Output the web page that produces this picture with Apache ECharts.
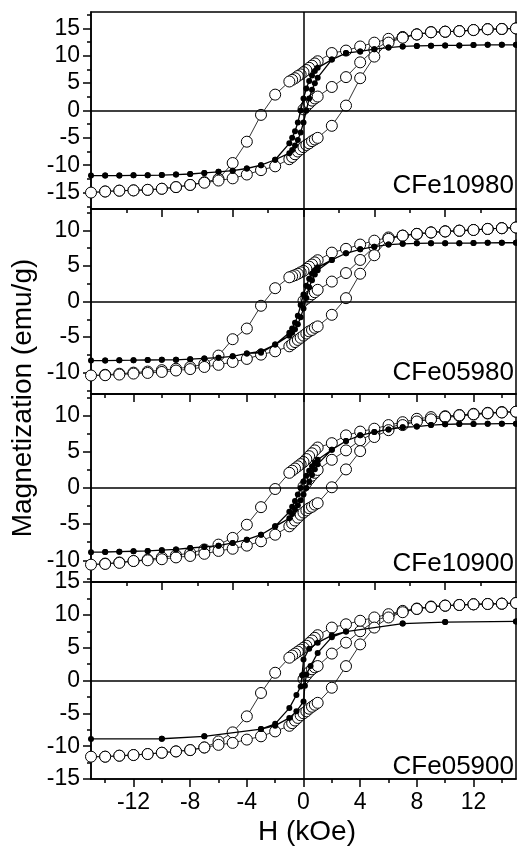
<!DOCTYPE html>
<html>
<head>
<meta charset="utf-8">
<script src="https://cdn.jsdelivr.net/npm/echarts@6/dist/echarts.min.js"></script>
<style>
html, body { margin: 0; padding: 0; background: #fff; }
#chart { width: 517px; height: 847px; }
</style>
</head>
<body>
<div id="chart"></div>
<script>
// ---- data: [H (kOe), M (emu/g)] ----
var sampleNames = ['CFe10980', 'CFe05980', 'CFe10900', 'CFe05900'];
var xTickLabels = [-12, -8, -4, 0, 4, 8, 12];
var yTickLabels = [
    [-15, -10, -5, 0, 5, 10, 15],
    [-10, -5, 0, 5, 10],
    [-10, -5, 0, 5, 10],
    [-15, -10, -5, 0, 5, 10, 15]
];
var yMinorTicks = [
    [-17.5, -12.5, -7.5, -2.5, 2.5, 7.5, 12.5, 17.5],
    [-12.5, -7.5, -2.5, 2.5, 7.5, 12.5],
    [-12.5, -7.5, -2.5, 2.5, 7.5, 12.5],
    [-12.5, -7.5, -2.5, 2.5, 7.5, 12.5]
];
var xTicksA = [-10, -5, 0, 5, 10];
var xMinorA = [-12.5, -7.5, -2.5, 2.5, 7.5, 12.5];
var xTicksB = [-12, -8, -4, 0, 4, 8, 12];
var xMinorB = [-14, -10, -6, -2, 2, 6, 10, 14];

// CFe10980
var p1OpenIni = [[0,0.2],[0.2,0.8],[0.4,1.3],[0.6,1.8],[0.8,2.2],[1,2.55],[2,4.3],[3,6.1],[4,8.8],[5,11.1],[6,12.7],[7,13.4],[8,13.9],[9,14.3],[10,14.4],[11,14.5],[12,14.7],[13,14.85],[14,14.9]];
var p1OpenDown = [[15,15.0],[14,14.9],[13,14.85],[12,14.7],[11,14.5],[10,14.4],[9,14.3],[8,13.9],[7,13.4],[6,13.1],[5,12.4],[4,11.7],[3,10.95],[2,10.5],[1,9.0],[0.8,8.6],[0.6,8.2],[0.4,7.8],[0.2,7.4],[0,7.0],[-0.2,6.6],[-0.4,6.3],[-0.6,5.9],[-0.8,5.6],[-1,5.3],[-2,2.9],[-3,-0.8],[-4,-5.7],[-5,-9.6],[-6,-12.5],[-7,-13.1],[-8,-13.6],[-9,-14.0],[-10,-14.3],[-11,-14.5],[-12,-14.6],[-13,-14.65],[-14,-14.8],[-15,-15.0]];
var p1OpenUp = [[-14,-14.8],[-13,-14.65],[-12,-14.6],[-11,-14.5],[-10,-14.3],[-9,-14.0],[-8,-13.6],[-7,-13.2],[-6,-12.8],[-5,-12.4],[-4,-11.7],[-3,-10.9],[-2,-10.2],[-1,-8.9],[-0.8,-8.5],[-0.6,-8.0],[-0.4,-7.5],[-0.2,-7.1],[0,-6.7],[0.2,-6.3],[0.4,-6.0],[0.6,-5.6],[0.8,-5.3],[1,-5.0],[2,-2.8],[3,0.9],[4,5.9],[5,9.85],[6,12.4],[7,13.3],[8,13.9],[9,14.3],[10,14.4],[11,14.5],[12,14.7],[13,14.85],[14,14.9],[15,15.0]];
var p1FillDown = [[15,12.0],[14,12.0],[13,12.0],[12,11.95],[11,11.9],[10,11.9],[9,11.85],[8,11.8],[7,11.7],[6,11.5],[5,11.2],[4,10.8],[3,10.5],[2,9.3],[1,7.8],[0.8,7.2],[0.6,6.4],[0.4,5.4],[0.2,4.0],[0,2.2],[-0.2,0.0],[-0.4,-2.2],[-0.6,-3.8],[-0.8,-5.0],[-1,-6.0],[-2,-9.0],[-3,-10.0],[-4,-10.6],[-5,-11.0],[-6,-11.2],[-7,-11.4],[-8,-11.6],[-9,-11.7],[-10,-11.8],[-11,-11.85],[-12,-11.85],[-13,-11.9],[-14,-11.9],[-15,-11.9]];
var p1FillUp = [[-14,-11.9],[-13,-11.9],[-12,-11.85],[-11,-11.85],[-10,-11.8],[-9,-11.7],[-8,-11.6],[-7,-11.4],[-6,-11.2],[-5,-11.0],[-4,-10.6],[-3,-10.0],[-2,-9.0],[-1,-7.8],[-0.8,-7.2],[-0.6,-6.4],[-0.4,-5.4],[-0.2,-4.0],[0,-2.2],[0.2,0.0],[0.4,2.2],[0.6,3.8],[0.8,5.0],[1,6.0],[2,9.3],[3,10.5],[4,10.8],[5,11.2],[6,11.5],[7,11.7],[8,11.8],[9,11.85],[10,11.9],[11,11.9],[12,11.95],[13,12.0],[14,12.0],[15,12.0]];

// CFe05980
var p2OpenIni = [[0,0.1],[0.2,0.4],[0.4,0.7],[0.6,1.0],[0.8,1.3],[1,1.64],[2,2.8],[3,4.0],[4,5.84],[5,7.7],[6,8.9],[7,9.25],[8,9.5],[9,9.7],[10,9.85],[11,9.95],[12,10.05],[13,10.2],[14,10.3]];
var p2OpenDown = [[15,10.4],[14,10.3],[13,10.2],[12,10.05],[11,9.95],[10,9.85],[9,9.7],[8,9.5],[7,9.25],[6,9.0],[5,8.55],[4,8.0],[3,7.4],[2,6.87],[1,5.8],[0.8,5.5],[0.6,5.2],[0.4,4.9],[0.2,4.6],[0,4.3],[-0.2,4.1],[-0.4,3.9],[-0.6,3.7],[-0.8,3.55],[-1,3.4],[-2,1.87],[-3,-0.6],[-4,-3.8],[-5,-5.3],[-6,-7.6],[-7,-8.8],[-8,-9.2],[-9,-9.45],[-10,-9.65],[-11,-9.85],[-12,-10.0],[-13,-10.15],[-14,-10.3],[-15,-10.4]];
var p2OpenUp = [[-14,-10.36],[-13,-10.27],[-12,-10.13],[-11,-10.04],[-10,-9.9],[-9,-9.7],[-8,-9.5],[-7,-9.2],[-6,-8.9],[-5,-8.5],[-4,-8.07],[-3,-7.47],[-2,-7.0],[-1,-6.3],[-0.8,-6.0],[-0.6,-5.7],[-0.4,-5.4],[-0.2,-5.1],[0,-4.8],[0.2,-4.5],[0.4,-4.2],[0.6,-4.0],[0.8,-3.7],[1,-3.5],[2,-1.87],[3,0.47],[4,3.9],[5,6.5],[6,8.8],[7,9.25],[8,9.5],[9,9.7],[10,9.85],[11,9.95],[12,10.05],[13,10.2],[14,10.3],[15,10.4]];
var p2FillDown = [[15,8.26],[14,8.26],[13,8.25],[12,8.22],[11,8.2],[10,8.2],[9,8.2],[8,8.17],[7,8.1],[6,8.0],[5,7.7],[4,7.33],[3,6.78],[2,5.84],[1,4.8],[0.8,4.4],[0.6,3.9],[0.4,3.2],[0.2,2.2],[0,1.0],[-0.2,-0.5],[-0.4,-2.0],[-0.6,-3.0],[-0.8,-3.8],[-1,-4.4],[-2,-6.06],[-3,-7.2],[-4,-7.3],[-5,-7.7],[-6,-7.9],[-7,-8.0],[-8,-8.1],[-9,-8.2],[-10,-8.2],[-11,-8.22],[-12,-8.25],[-13,-8.27],[-14,-8.3],[-15,-8.3]];
var p2FillUp = [[-14,-8.3],[-13,-8.27],[-12,-8.25],[-11,-8.22],[-10,-8.2],[-9,-8.2],[-8,-8.1],[-7,-8.0],[-6,-7.9],[-5,-7.7],[-4,-7.3],[-3,-7.0],[-2,-6.06],[-1,-4.8],[-0.8,-4.4],[-0.6,-3.9],[-0.4,-3.2],[-0.2,-2.2],[0,-1.0],[0.2,0.5],[0.4,2.0],[0.6,3.0],[0.8,3.8],[1,4.4],[2,5.84],[3,6.78],[4,7.33],[5,7.7],[6,8.0],[7,8.1],[8,8.17],[9,8.2],[10,8.2],[11,8.2],[12,8.22],[13,8.25],[14,8.26],[15,8.26]];

// CFe10900
var p3OpenIni = [[0,0.2],[0.2,0.7],[0.4,1.2],[0.6,1.7],[0.8,2.1],[1,2.5],[2,3.9],[3,5.2],[4,6.6],[5,7.6],[6,8.3],[7,8.9],[8,9.3],[9,9.5],[10,9.75],[11,9.95],[12,10.15],[13,10.3],[14,10.45]];
var p3OpenDown = [[15,10.55],[14,10.5],[13,10.4],[12,10.26],[11,10.1],[10,9.93],[9,9.8],[8,9.57],[7,9.1],[6,8.7],[5,8.2],[4,7.8],[3,7.28],[2,6.2],[1,5.6],[0.8,5.2],[0.6,4.8],[0.4,4.4],[0.2,4.0],[0,3.6],[-0.2,3.3],[-0.4,3.0],[-0.6,2.7],[-0.8,2.4],[-1,2.1],[-2,-0.14],[-3,-2.65],[-4,-5.08],[-5,-6.9],[-6,-7.83],[-7,-8.5],[-8,-9.0],[-9,-9.3],[-10,-9.6],[-11,-9.9],[-12,-10.1],[-13,-10.3],[-14,-10.45],[-15,-10.6]];
var p3OpenUp = [[-14,-10.5],[-13,-10.35],[-12,-10.1],[-11,-10.0],[-10,-9.85],[-9,-9.6],[-8,-9.4],[-7,-9.1],[-6,-8.7],[-5,-8.4],[-4,-7.97],[-3,-7.37],[-2,-6.46],[-1,-5.3],[-0.8,-4.9],[-0.6,-4.5],[-0.4,-4.1],[-0.2,-3.7],[0,-3.4],[0.2,-3.1],[0.4,-2.8],[0.6,-2.6],[0.8,-2.3],[1,-2.1],[2,0.1],[3,2.57],[4,5.1],[5,7.05],[6,8.0],[7,8.7],[8,9.2],[9,9.5],[10,9.85],[11,10.05],[12,10.2],[13,10.35],[14,10.45],[15,10.55]];
var p3FillDown = [[15,8.9],[14,8.9],[13,8.88],[12,8.85],[11,8.85],[10,8.8],[9,8.7],[8,8.5],[7,8.4],[6,8.1],[5,7.74],[4,7.28],[3,6.5],[2,5.3],[1,3.9],[0.8,3.5],[0.6,3.0],[0.4,2.4],[0.2,1.7],[0,0.9],[-0.2,0.0],[-0.4,-0.9],[-0.6,-1.8],[-0.8,-2.6],[-1,-3.3],[-2,-5.3],[-3,-6.46],[-4,-7.14],[-5,-7.6],[-6,-7.97],[-7,-8.15],[-8,-8.3],[-9,-8.5],[-10,-8.6],[-11,-8.7],[-12,-8.75],[-13,-8.8],[-14,-8.85],[-15,-8.88]];
var p3FillUp = [[-14,-8.85],[-13,-8.8],[-12,-8.75],[-11,-8.7],[-10,-8.6],[-9,-8.5],[-8,-8.3],[-7,-8.15],[-6,-7.97],[-5,-7.6],[-4,-7.14],[-3,-6.46],[-2,-5.3],[-1,-4.2],[-0.8,-3.6],[-0.6,-3.0],[-0.4,-2.4],[-0.2,-1.7],[0,-0.9],[0.2,0.0],[0.4,0.9],[0.6,1.8],[0.8,2.6],[1,3.3],[2,5.3],[3,6.5],[4,7.28],[5,7.74],[6,8.1],[7,8.4],[8,8.5],[9,8.7],[10,8.8],[11,8.85],[12,8.85],[13,8.88],[14,8.9],[15,8.9]];

// CFe05900
var p4OpenIni = [[0,0.2],[0.2,0.8],[0.4,1.3],[0.6,1.7],[0.8,2.0],[1,2.2],[2,4.1],[3,5.76],[4,7.5],[5,9.0],[6,9.9],[7,10.5],[8,10.9],[9,11.2],[10,11.4],[11,11.5],[12,11.6],[13,11.65],[14,11.7]];
var p4OpenDown = [[15,11.8],[14,11.7],[13,11.65],[12,11.6],[11,11.5],[10,11.4],[9,11.27],[8,10.96],[7,10.6],[6,10.1],[5,9.6],[4,9.1],[3,8.56],[2,8.06],[1,6.9],[0.8,6.5],[0.6,6.1],[0.4,5.7],[0.2,5.3],[0,5.0],[-0.2,4.7],[-0.4,4.4],[-0.6,4.1],[-0.8,3.8],[-1,3.47],[-2,1.18],[-3,-1.9],[-4,-5.46],[-5,-7.9],[-6,-9.28],[-7,-10.2],[-8,-10.6],[-9,-10.8],[-10,-11.0],[-11,-11.2],[-12,-11.35],[-13,-11.45],[-14,-11.6],[-15,-11.6]];
var p4OpenUp = [[-14,-11.6],[-13,-11.45],[-12,-11.35],[-11,-11.2],[-10,-11.0],[-9,-10.8],[-8,-10.6],[-7,-10.2],[-6,-9.8],[-5,-9.5],[-4,-9.0],[-3,-8.5],[-2,-7.75],[-1,-6.9],[-0.8,-6.5],[-0.6,-6.1],[-0.4,-5.7],[-0.2,-5.3],[0,-5.0],[0.2,-4.7],[0.4,-4.3],[0.6,-4.0],[0.8,-3.7],[1,-3.4],[2,-1.1],[3,2.19],[4,5.5],[5,8.06],[6,9.6],[7,10.4],[8,10.9],[9,11.2],[10,11.4],[11,11.5],[12,11.6],[13,11.65],[14,11.7],[15,11.8]];
var p4FillDown = [[15,9.0],[10,8.9],[7,8.67],[3,7.45],[2,6.88],[1,5.76],[0.4,4.85],[0,3.2],[-0.1,0.8],[-0.2,-0.9],[-0.5,-2.2],[-1,-4.2],[-2,-6.6],[-3,-7.4],[-7,-8.5],[-10,-8.87],[-15,-8.9]];
var p4FillUp = [[-10,-8.87],[-7,-8.5],[-3,-7.4],[-2,-6.88],[-1,-5.7],[-0.5,-4.7],[0,-3.2],[0.1,-0.8],[0.2,0.9],[0.5,2.2],[1,4.2],[2,6.6],[3,7.45],[7,8.67],[10,8.9],[15,9.0]];

var yRanges = [[-18, 18], [-13, 13], [-13, 13], [-15, 15]];

var panels = [
    { open: p1OpenIni.concat(p1OpenDown, p1OpenUp), fill: p1FillDown.concat(p1FillUp), xMajor: xTicksA, xMinor: xMinorA },
    { open: p2OpenIni.concat(p2OpenDown, p2OpenUp), fill: p2FillDown.concat(p2FillUp), xMajor: xTicksB, xMinor: xMinorB },
    { open: p3OpenIni.concat(p3OpenDown, p3OpenUp), fill: p3FillDown.concat(p3FillUp), xMajor: xTicksA, xMinor: xMinorA },
    { open: p4OpenIni.concat(p4OpenDown, p4OpenUp), fill: p4FillDown.concat(p4FillUp), xMajor: xTicksB, xMinor: xMinorB }
];

// ---- chart ----
var FONT = '"Liberation Sans", Arial, Helvetica, sans-serif';
var layout = [{top: 12, h: 197}, {top: 209, h: 185}, {top: 394, h: 188}, {top: 582, h: 197}];
var labelY = [186, 373, 564, 767];

var chart = echarts.init(document.getElementById('chart'));
var option = {
    animation: false,
    backgroundColor: '#fff',
    grid: [], xAxis: [], yAxis: [], series: [], graphic: []
};

panels.forEach(function (p, i) {
    var last = (i === 3);
    option.grid.push({
        left: 91, right: 1, top: layout[i].top, height: layout[i].h,
        show: true, borderColor: '#000', borderWidth: 1.5, outerBoundsMode: 'none'
    });
    // major x ticks (+ labels on the bottom panel)
    option.xAxis.push({
        gridIndex: i, type: 'value', min: -15, max: 15, position: 'bottom',
        axisLine: { show: true, onZero: false, lineStyle: { color: '#000', width: 1.5 } },
        axisTick: { show: true, inside: false, length: 8, customValues: p.xMajor, lineStyle: { color: '#000', width: 1.5 } },
        axisLabel: { show: last, customValues: xTickLabels, margin: 12, color: '#000', fontSize: 23, fontFamily: FONT },
        splitLine: { show: false }
    });
    // minor x ticks
    option.xAxis.push({
        gridIndex: i, type: 'value', min: -15, max: 15, position: 'bottom',
        axisLine: { show: false, onZero: false },
        axisTick: { show: true, inside: false, length: 4, customValues: p.xMinor, lineStyle: { color: '#000', width: 1.5 } },
        axisLabel: { show: false },
        splitLine: { show: false }
    });
    option.yAxis.push({
        gridIndex: i, type: 'value', min: yRanges[i][0], max: yRanges[i][1], position: 'left',
        axisLine: { show: true, onZero: false, lineStyle: { color: '#000', width: 1.5 } },
        axisTick: { show: true, inside: false, length: 8, customValues: yTickLabels[i], lineStyle: { color: '#000', width: 1.5 } },
        axisLabel: { show: true, customValues: yTickLabels[i], margin: 11, color: '#000', fontSize: 23, fontFamily: FONT },
        splitLine: { show: false }
    });
    option.yAxis.push({
        gridIndex: i, type: 'value', min: yRanges[i][0], max: yRanges[i][1], position: 'left',
        axisLine: { show: false, onZero: false },
        axisTick: { show: true, inside: false, length: 4, customValues: yMinorTicks[i], lineStyle: { color: '#000', width: 1.5 } },
        axisLabel: { show: false },
        splitLine: { show: false }
    });

    option.series.push({
        type: 'line', xAxisIndex: 2 * i, yAxisIndex: 2 * i,
        data: p.open, symbol: 'circle', symbolSize: 11, showAllSymbol: true,
        itemStyle: { color: '#fff', borderColor: '#000', borderWidth: 1 },
        lineStyle: { color: '#000', width: 0.8 },
        emphasis: { disabled: true }, z: 2,
        markLine: {
            silent: true, symbol: 'none', label: { show: false },
            lineStyle: { color: '#000', width: 1.5, type: 'solid' },
            data: [{ yAxis: 0 }, { xAxis: 0 }]
        }
    });
    option.series.push({
        type: 'line', xAxisIndex: 2 * i, yAxisIndex: 2 * i,
        data: p.fill, symbol: 'circle', symbolSize: 6, showAllSymbol: true,
        itemStyle: { color: '#000' },
        lineStyle: { color: '#000', width: 1.3 },
        emphasis: { disabled: true }, z: 3
    });

    option.graphic.push({
        type: 'text', x: 514, y: labelY[i], z: 10,
        style: { text: sampleNames[i], textAlign: 'right', textVerticalAlign: 'middle', fill: '#000', font: '26px ' + FONT }
    });
});

option.graphic.push({
    type: 'text', x: 23, y: 398, rotation: Math.PI / 2, z: 10,
    style: { text: 'Magnetization (emu/g)', textAlign: 'center', textVerticalAlign: 'middle', fill: '#000', font: '28px ' + FONT }
});
option.graphic.push({
    type: 'text', x: 307, y: 832, z: 10,
    style: { text: 'H (kOe)', textAlign: 'center', textVerticalAlign: 'middle', fill: '#000', font: '28px ' + FONT }
});

chart.setOption(option);
</script>
</body>
</html>
